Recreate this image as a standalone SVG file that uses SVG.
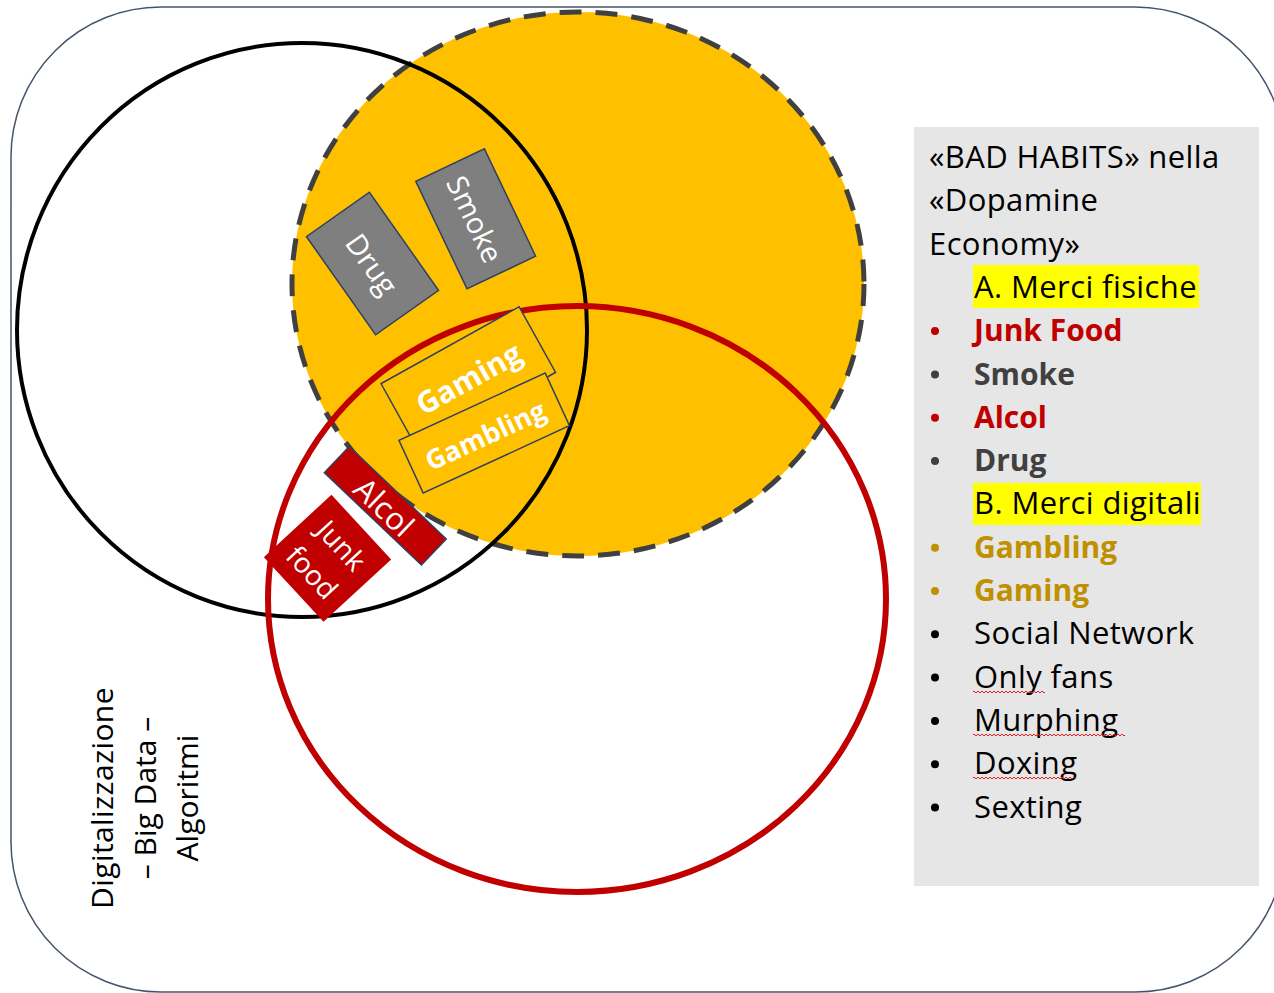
<svg xmlns="http://www.w3.org/2000/svg" width="1274" height="993" viewBox="0 0 1274 993">
<style>
.lbl{font-family:"Open Sans","Liberation Sans",sans-serif;fill:#fff;text-anchor:middle;dominant-baseline:central}
.leg{font-family:"Open Sans","Liberation Sans",sans-serif;font-size:31px;letter-spacing:0.4px;fill:#000}
.b{font-weight:bold;font-size:30px;letter-spacing:0}
.box{stroke:#2F4060;stroke-width:1.5}
.wave{fill:none;stroke:#E02020;stroke-width:1}
</style>
<rect x="0" y="0" width="1274" height="993" fill="#fff"/>
<g id="frame">
<rect x="11" y="7" width="1274" height="985" rx="150" ry="150" fill="#fff" stroke="#44546A" stroke-width="1.5"/>
</g>
<g id="circles">
<ellipse id="orange" cx="578" cy="284" rx="286" ry="272" fill="#FFC000" stroke="#404040" stroke-width="5" stroke-dasharray="22 14"/>
<ellipse id="black" cx="302" cy="330" rx="285" ry="287" fill="none" stroke="#000" stroke-width="4"/>
<ellipse id="red" cx="577" cy="599" rx="309" ry="293" fill="none" stroke="#C00000" stroke-width="6"/>
</g>
<g id="drug" transform="translate(372.5,263.5) rotate(54.8)">
<rect class="box" x="-60" y="-38.5" width="120" height="77" fill="#7F7F7F"/>
<text class="lbl" font-size="29" x="0" y="0">Drug</text>
</g>
<g id="smoke" transform="translate(475.7,218.8) rotate(64.5)">
<rect class="box" x="-59.5" y="-38" width="119" height="76" fill="#7F7F7F"/>
<text class="lbl" font-size="29" x="0" y="0">Smoke</text>
</g>
<g id="gaming" transform="translate(468.3,378) rotate(-29.1)">
<rect class="box" x="-79" y="-37.5" width="158" height="75" fill="#FFC000"/>
<text class="lbl b" font-size="30" x="0" y="0">Gaming</text>
</g>
<g id="gambling" transform="translate(484.2,433) rotate(-24.7)">
<rect class="box" x="-80.5" y="-29" width="161" height="58" fill="#FFC000"/>
<text class="lbl b" style="font-size:27px" x="0" y="2">Gambling</text>
</g>
<g id="alcol" transform="translate(385.3,505.8) rotate(43.6)">
<rect class="box" x="-67" y="-18" width="134" height="36" fill="#C00000"/>
<text class="lbl" font-size="31" x="0" y="1">Alcol</text>
</g>
<g id="junkfood" transform="translate(327.5,558.3) rotate(47.3)">
<rect x="-44" y="-46" width="88" height="92" fill="#C00000"/>
<text class="lbl" font-size="28" x="0" y="-20">Junk</text>
<text class="lbl" font-size="28" x="0" y="20">food</text>
</g>
<g id="axis-label" font-family="Open Sans, Liberation Sans, sans-serif" font-size="30" fill="#000" text-anchor="middle">
<text transform="translate(113,798) rotate(-90)" letter-spacing="0.4">Digitalizzazione</text>
<text transform="translate(156,798) rotate(-90)">– Big Data –</text>
<text transform="translate(198,798) rotate(-90)">Algoritmi</text>
</g>
<g id="legend">
<rect x="914" y="127" width="345" height="759" fill="#E7E6E6"/>
<rect x="973" y="265" width="226" height="43" fill="#FFFF00"/>
<rect x="973" y="483" width="228" height="42" fill="#FFFF00"/>
<text class="leg" x="929" y="168">«BAD HABITS» nella</text>
<text class="leg" x="929" y="211.3">«Dopamine</text>
<text class="leg" x="929" y="254.6">Economy»</text>
<text class="leg" x="974" y="297.9">A. Merci fisiche</text>
<text class="leg b" x="974" y="341.2" style="fill:#C00000">Junk Food</text>
<text class="leg b" x="974" y="384.5" style="fill:#404040">Smoke</text>
<text class="leg b" x="974" y="427.8" style="fill:#C00000">Alcol</text>
<text class="leg b" x="974" y="471.1" style="fill:#404040">Drug</text>
<text class="leg" x="974" y="514.4">B. Merci digitali</text>
<text class="leg b" x="974" y="557.7" style="fill:#BF9000">Gambling</text>
<text class="leg b" x="974" y="601" style="fill:#BF9000">Gaming</text>
<text class="leg" x="974" y="644.3">Social Network</text>
<text class="leg" x="974" y="687.6">Only fans</text>
<text class="leg" x="974" y="730.9">Murphing</text>
<text class="leg" x="974" y="774.2">Doxing</text>
<text class="leg" x="974" y="817.5">Sexting</text>
<circle cx="935" cy="331" r="4" fill="#C00000"/>
<circle cx="935" cy="374.5" r="4" fill="#404040"/>
<circle cx="935" cy="417.8" r="4" fill="#C00000"/>
<circle cx="935" cy="461.1" r="4" fill="#404040"/>
<circle cx="935" cy="547.7" r="4" fill="#BF9000"/>
<circle cx="935" cy="591" r="4" fill="#BF9000"/>
<circle cx="935" cy="634.3" r="4" fill="#000"/>
<circle cx="935" cy="677.6" r="4" fill="#000"/>
<circle cx="935" cy="720.9" r="4" fill="#000"/>
<circle cx="935" cy="764.2" r="4" fill="#000"/>
<circle cx="935" cy="807.5" r="4" fill="#000"/>
<path class="wave" d="M973 692 q1 -2 2 0 t2 0 t2 0 t2 0 t2 0 t2 0 t2 0 t2 0 t2 0 t2 0 t2 0 t2 0 t2 0 t2 0 t2 0 t2 0 t2 0 t2 0 t2 0 t2 0 t2 0 t2 0 t2 0 t2 0 t2 0 t2 0 t2 0 t2 0 t2 0 t2 0 t2 0 t2 0 t2 0 t2 0 t2 0 t2 0"/>
<path class="wave" d="M973 735 q1 -2 2 0 t2 0 t2 0 t2 0 t2 0 t2 0 t2 0 t2 0 t2 0 t2 0 t2 0 t2 0 t2 0 t2 0 t2 0 t2 0 t2 0 t2 0 t2 0 t2 0 t2 0 t2 0 t2 0 t2 0 t2 0 t2 0 t2 0 t2 0 t2 0 t2 0 t2 0 t2 0 t2 0 t2 0 t2 0 t2 0 t2 0 t2 0 t2 0 t2 0 t2 0 t2 0 t2 0 t2 0 t2 0 t2 0 t2 0 t2 0 t2 0 t2 0 t2 0 t2 0 t2 0 t2 0 t2 0 t2 0 t2 0 t2 0 t2 0 t2 0 t2 0 t2 0 t2 0 t2 0 t2 0 t2 0 t2 0 t2 0 t2 0 t2 0 t2 0 t2 0 t2 0 t2 0 t2 0 t2 0"/>
<path class="wave" d="M973 778 q1 -2 2 0 t2 0 t2 0 t2 0 t2 0 t2 0 t2 0 t2 0 t2 0 t2 0 t2 0 t2 0 t2 0 t2 0 t2 0 t2 0 t2 0 t2 0 t2 0 t2 0 t2 0 t2 0 t2 0 t2 0 t2 0 t2 0 t2 0 t2 0 t2 0 t2 0 t2 0 t2 0 t2 0 t2 0 t2 0 t2 0 t2 0 t2 0 t2 0 t2 0 t2 0 t2 0 t2 0 t2 0 t2 0 t2 0 t2 0 t2 0 t2 0 t2 0 t2 0"/>
</g>
</svg>
